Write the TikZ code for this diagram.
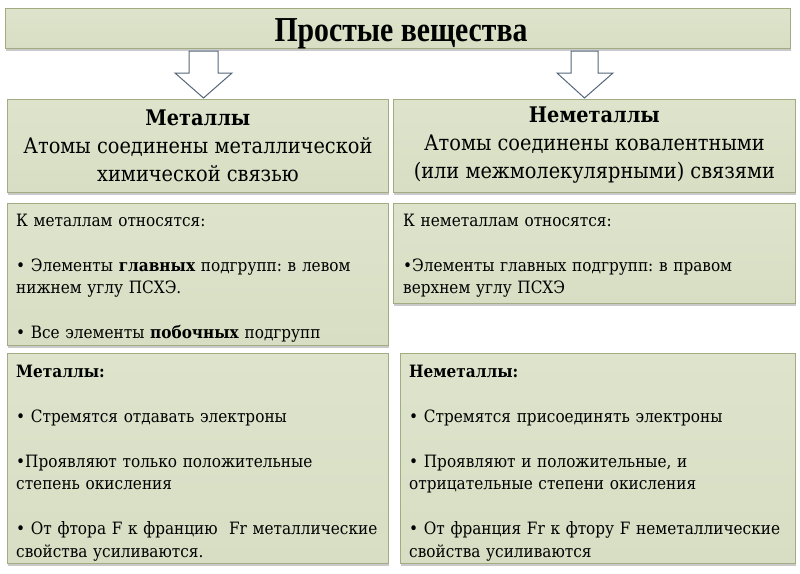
\documentclass[tikz,border=0pt]{standalone}
\usepackage{fontspec}
\setmainfont{DejaVu Serif Condensed}
\newfontfamily\titlefont[FakeStretch=0.85]{Liberation Serif}
\usetikzlibrary{shadows}
\definecolor{boxfill}{HTML}{D8DEC3}
\definecolor{boxtop}{HTML}{DEE4CC}
\definecolor{boxedge}{HTML}{A2AC83}
\definecolor{arrowedge}{HTML}{56667A}
\tikzset{
  panel/.style={draw=boxedge, line width=0.8pt, top color=boxtop, bottom color=boxfill,
    rectangle, inner sep=0pt, anchor=north west,
    drop shadow={shadow xshift=1pt, shadow yshift=-2.5pt, opacity=0.35, fill=black!60}},
  bodytext/.style={anchor=base west, inner sep=0pt, align=left, text width=385pt,
    font=\fontsize{17}{22.5}\selectfont},
  headtext/.style={align=center, inner sep=0pt, font=\fontsize{21.5}{28}\selectfont},
  blockarrow/.style={draw=arrowedge, line width=1pt, fill=white, line join=miter}
}
\begin{document}
\frenchspacing
\begin{tikzpicture}[x=1pt,y=-1pt]
\useasboundingbox[fill=white] (0,0) rectangle (800,573);
% title
\node[panel, minimum width=785pt, minimum height=40pt] (title) at (5,8) {};
\node[anchor=base, inner sep=0pt, font=\titlefont\bfseries\fontsize{35}{38}\selectfont] (titletext) at (401,41) {Простые вещества};
% second row
\node[panel, minimum width=381pt, minimum height=93pt] (metA) at (7,99) {};
\node[panel, minimum width=402pt, minimum height=93pt] (nonA) at (393,99) {};
\node[headtext] (metAtext) at ([yshift=0.5pt]metA.center) {\textbf{Металлы}\\Атомы соединены металлической\\химической связью};
\node[headtext] (nonAtext) at ([yshift=0.5pt]nonA.center) {\textbf{Неметаллы}\\Атомы соединены ковалентными\\(или межмолекулярными) связями};
% arrows
\draw[blockarrow] (189,51) -- (218,51) -- (218,73) -- (232,73) -- (203.5,98) -- (175,73) -- (189,73) -- cycle;
\draw[blockarrow] (571,51) -- (598,51) -- (598,73) -- (613,73) -- (584.5,98) -- (557,73) -- (571,73) -- cycle;
% third row
\node[panel, minimum width=381pt, minimum height=142pt] (metB) at (7,203) {};
\node[panel, minimum width=402pt, minimum height=100pt] (nonB) at (393,203) {};
\node[bodytext] (metBtext) at (16,226) {К металлам относятся:\\[22.5pt]
• Элементы \textbf{главных} подгрупп: в левом\\нижнем углу ПСХЭ.\\[22.5pt]
• Все элементы \textbf{побочных} подгрупп};
\node[bodytext] (nonBtext) at (403,226) {К неметаллам относятся:\\[22.5pt]
•Элементы главных подгрупп: в правом\\верхнем углу ПСХЭ};
% fourth row
\node[panel, minimum width=381pt, minimum height=210pt] (metC) at (7,353) {};
\node[panel, minimum width=395pt, minimum height=210pt] (nonC) at (400,353) {};
\node[bodytext] (metCtext) at (16,377) {\textbf{Металлы:}\\[22.5pt]
• Стремятся отдавать электроны\\[22.5pt]
•Проявляют только положительные\\степень окисления\\[22.5pt]
• От фтора F к францию~~Fr металлические\\свойства усиливаются.};
\node[bodytext] (nonCtext) at (409,377) {\textbf{Неметаллы:}\\[22.5pt]
• Стремятся присоединять электроны\\[22.5pt]
• Проявляют и положительные, и\\отрицательные степени окисления\\[22.5pt]
• От франция Fr к фтору F неметаллические\\свойства усиливаются};
\end{tikzpicture}
\end{document}
